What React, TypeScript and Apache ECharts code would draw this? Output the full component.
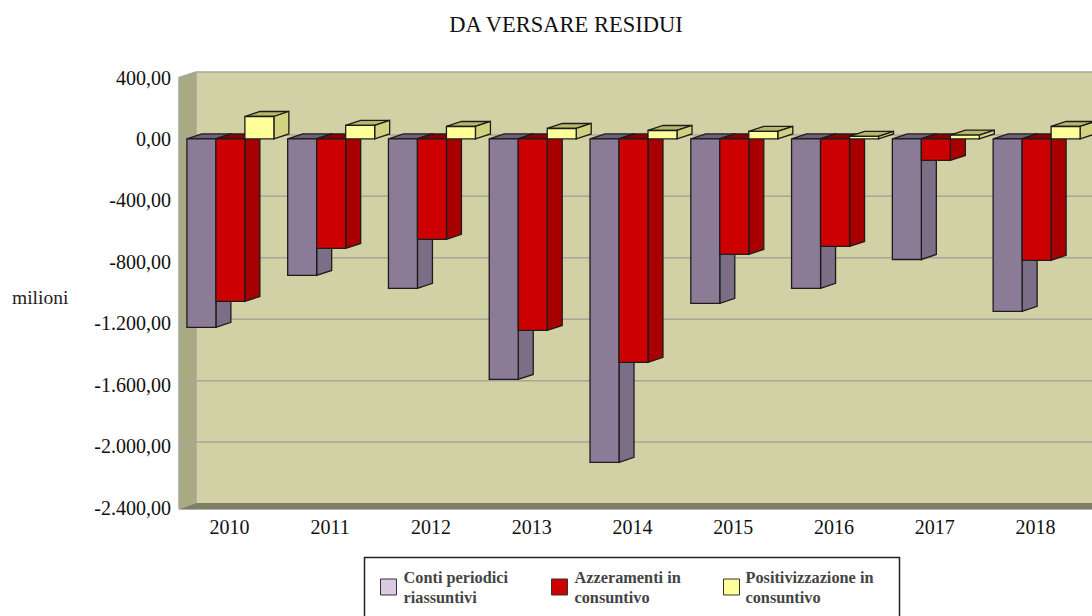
import React, { useEffect, useRef } from "react";
import * as echarts from "echarts";

const years = ["2010", "2011", "2012", "2013", "2014", "2015", "2016", "2017", "2018"];
const contiPeriodici = [-1227, -889, -973, -1566, -2106, -1071, -973, -785, -1123];
const azzeramenti = [-1058, -713, -654, -1247, -1455, -752, -700, -140, -791];
const positivizzazione = [146, 88, 81, 68, 55, 49, 16, 25, 81];
const yTicks = [400, 0, -400, -800, -1200, -1600, -2000, -2400];

const NAME_A = "Conti periodici\nriassuntivi";
const NAME_B = "Azzeramenti in\nconsuntivo";
const NAME_C = "Positivizzazione in\nconsuntivo";

const SERIF = "'Liberation Serif', 'Times New Roman', serif";
const DX = 15;
const DY = 5;
const WALL_DX = 16;
const WALL_DY = 5.5;
const GRID_DY = 4;

function fmt(v: number) {
  const a = Math.abs(v);
  const s = a >= 1000 ? Math.floor(a / 1000) + "." + String(a % 1000).padStart(3, "0") : String(a);
  return (v < 0 ? "-" : "") + s + ",00";
}

function bar3d(slot: number, front: string, side: string, top: string) {
  return (params: any, api: any) => {
    const i = api.value(0);
    const v = api.value(1);
    const c0 = api.coord([i, 0]);
    const cv = api.coord([i, v]);
    const band = api.size([1, 0])[0];
    const w = band * 0.2877;
    const x0 = c0[0] + (slot - 1.5) * w;
    const x1 = x0 + w;
    const yT = Math.min(c0[1], cv[1]);
    const yB = Math.max(c0[1], cv[1]);
    const stroke = "#1c1c1c";
    const lw = 1.3;
    return {
      type: "group",
      children: [
        { type: "polygon", shape: { points: [[x0, yT], [x0 + DX, yT - DY], [x1 + DX, yT - DY], [x1, yT]] }, style: { fill: top, stroke, lineWidth: lw } },
        { type: "polygon", shape: { points: [[x1, yT], [x1 + DX, yT - DY], [x1 + DX, yB - DY], [x1, yB]] }, style: { fill: side, stroke, lineWidth: lw } },
        { type: "rect", shape: { x: x0, y: yT, width: w, height: yB - yT }, style: { fill: front, stroke, lineWidth: lw } },
      ],
    };
  };
}

function wallItem(params: any, api: any) {
  const cs = params.coordSys;
  const y = api.coord([0, api.value(1)])[1];
  const left = cs.x - 1;
  const back = cs.x + WALL_DX;
  const right = cs.x + cs.width + WALL_DX;
  const top = cs.y;
  const bottom = cs.y + cs.height + 1.5;
  const floorY = cs.y + cs.height - 4.5;
  const edge = "#a6a69c";
  const children: any[] = [];
  if (params.dataIndex === 0) {
    children.push(
      { type: "rect", shape: { x: back, y: top - WALL_DY, width: cs.width, height: floorY - top + WALL_DY }, style: { fill: "#d2d1a6" } },
      { type: "polygon", shape: { points: [[left, top], [back, top - WALL_DY], [back, floorY], [left, bottom]] }, style: { fill: "#a9a982" } },
      { type: "polygon", shape: { points: [[left, bottom], [back, floorY], [right, floorY], [right, bottom]] }, style: { fill: "#7f7f67" } },
      { type: "polyline", shape: { points: [[left, bottom], [left, top], [back, top - WALL_DY], [right, top - WALL_DY]] }, style: { fill: "none", stroke: edge, lineWidth: 1.5 } },
      { type: "line", shape: { x1: back, y1: top - WALL_DY, x2: back, y2: floorY }, style: { stroke: edge, lineWidth: 1.5 } },
      { type: "line", shape: { x1: left, y1: bottom + 0.5, x2: right, y2: bottom + 0.5 }, style: { stroke: "#b0b0a8", lineWidth: 1 } },
    );
  }
  if (api.value(1) !== 400 && api.value(1) !== -2400) {
    children.push({
      type: "polyline",
      shape: { points: [[left, y], [back, y - GRID_DY], [right, y - GRID_DY]] },
      style: { fill: "none", stroke: edge, lineWidth: 1.5 },
    });
  }
  return { type: "group", children };
}

function legendFor(name: string, left: number, color: string, textGap: number) {
  return {
    show: true,
    data: [{ name, itemStyle: { color, borderColor: "#333333", borderWidth: 1 } }],
    left,
    top: 567,
    padding: 0,
    icon: "rect",
    itemWidth: 16,
    itemHeight: 16,
    itemGap: 0,
    selectedMode: false,
    textStyle: { fontFamily: SERIF, fontSize: 16.3, fontWeight: "bold", color: "#444444", lineHeight: 20, padding: [0, 0, 0, textGap] },
  };
}

export default function App() {
  const ref = useRef<HTMLDivElement>(null);
  useEffect(() => {
    const chart = echarts.init(ref.current!, undefined, { renderer: "svg" });
    const mk = (d: number[]) => d.map((v, i) => [i, v]);
    chart.setOption({
      animation: false,
      backgroundColor: "#ffffff",
      title: {
        text: "DA VERSARE RESIDUI",
        left: 561,
        top: 8,
        textAlign: "center",
        textStyle: { fontFamily: SERIF, fontSize: 22.5, fontWeight: "normal", color: "#111111" },
      },
      grid: { left: 180, top: 77.5, width: 907, height: 430, containLabel: false, outerBoundsMode: "none" },
      xAxis: {
        type: "category",
        data: years,
        axisLine: { show: false },
        axisTick: { show: false },
        splitLine: { show: false },
        axisLabel: { fontFamily: SERIF, fontSize: 20, color: "#111111", margin: 9, padding: [0, 2, 0, 0] },
      },
      yAxis: {
        type: "value",
        min: -2400,
        max: 400,
        interval: 400,
        axisLine: { show: false },
        axisTick: { show: false },
        splitLine: { show: false },
        axisLabel: { fontFamily: SERIF, fontSize: 20, color: "#111111", margin: 9, padding: [0, 0, 3, 0], formatter: (v: number) => fmt(v) },
      },
      legend: [legendFor(NAME_A, 380, "#dcc9e2", 2), legendFor(NAME_B, 551, "#cc0000", 2), legendFor(NAME_C, 723, "#ffff99", 1)],
      graphic: [
        { type: "text", x: 12, y: 297, style: { text: "milioni", fontFamily: SERIF, fontSize: 19.5, fill: "#222222", align: "left", verticalAlign: "middle" } },
        { type: "rect", z: -1, shape: { x: 364.5, y: 557.5, width: 535, height: 80 }, style: { fill: "#ffffff", stroke: "#222222", lineWidth: 1.5 } },
      ],
      series: [
        { type: "custom", name: "walls", silent: true, z: 1, renderItem: wallItem, data: yTicks.map((v) => [0, v]), encode: { x: 0, y: 1 } },
        { type: "custom", name: NAME_A, z: 2, itemStyle: { color: "#dcc9e2" }, renderItem: bar3d(0, "#8c7b96", "#7c6e86", "#6e6078"), data: mk(contiPeriodici), encode: { x: 0, y: 1 } },
        { type: "custom", name: NAME_B, z: 3, itemStyle: { color: "#cc0000" }, renderItem: bar3d(1, "#cc0000", "#a80000", "#880000"), data: mk(azzeramenti), encode: { x: 0, y: 1 } },
        { type: "custom", name: NAME_C, z: 4, itemStyle: { color: "#ffff99" }, renderItem: bar3d(2, "#ffff99", "#d2d281", "#b8b86c"), data: mk(positivizzazione), encode: { x: 0, y: 1 } },
      ],
    });
    return () => chart.dispose();
  }, []);
  return <div ref={ref} style={{ position: "fixed", left: 0, top: 0, width: 1092, height: 616 }} />;
}
